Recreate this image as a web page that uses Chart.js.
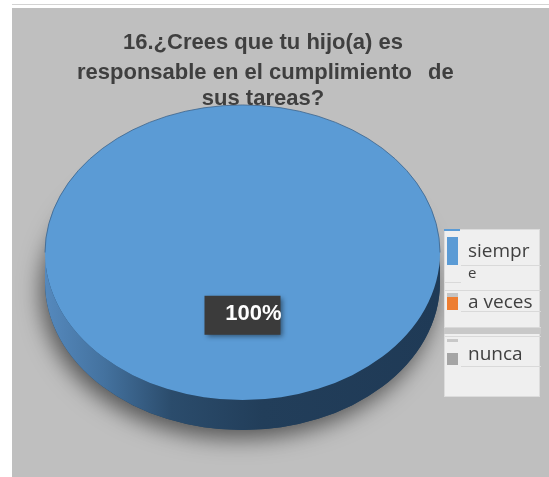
<!DOCTYPE html>
<html>
<head>
<meta charset="utf-8">
<script src="https://cdn.jsdelivr.net/npm/chart.js@4.4.1/dist/chart.umd.min.js"></script>
<style>
  html, body { margin:0; padding:0; background:#ffffff; }
  #wrap { position:relative; width:549px; height:477px; overflow:hidden; }
  #panel { position:absolute; left:12px; top:8px; right:0; bottom:0; background:#bfbfbf; }
  #topline { position:absolute; left:12px; top:4px; width:537px; height:1px; background:#d3d3d3; }
  canvas { position:absolute; left:0; top:0; }
  .t { position:absolute; font-family:"Liberation Sans", Arial, sans-serif; font-weight:bold; font-size:22px; line-height:22px; color:#3f3f3f; white-space:pre; }
  #legend { position:absolute; left:444px; top:229px; width:96px; height:168px; background:#efefef; border:1px solid #dcdcdc; box-sizing:border-box; }
  .lg { position:absolute; font-family:"Open Sans", "Noto Sans", sans-serif; font-size:19px; line-height:19px; color:#404040; white-space:pre; }
  .sw { position:absolute; width:11px; }
  .ln { position:absolute; height:1px; background:#d9d9d9; }
</style>
</head>
<body>
<div id="wrap">
  <div id="panel"></div>
  <div id="topline"></div>
  <canvas id="c" width="549" height="477"></canvas>
  <div id="titleBox"></div>
  <div id="legend"></div>
</div>
<script>
const titleLines = ["16.¿Crees que tu hijo(a) es", "responsable en el cumplimiento", "de", "sus tareas?"];
const categories = ["siempre", "a veces", "nunca"];
const legendText = ["siempr\ne", "a veces", "nunca"];
const values = [100, 0, 0];
const colors = ["#5b9bd5", "#ed7d31", "#a5a5a5"];

// Title (HTML text)
const tb = document.getElementById('titleBox');
function addT(txt, left, top, center) {
  const d = document.createElement('div');
  d.className = 't';
  d.textContent = txt;
  d.style.top = top + 'px';
  if (center) { d.style.left = (center - 300) + 'px'; d.style.width = '600px'; d.style.textAlign = 'center'; }
  else d.style.left = left + 'px';
  tb.appendChild(d);
}
addT(titleLines[0], 0, 31, 263);
addT(titleLines[1], 77, 61, null);
addT(titleLines[2], 428, 61, null);
addT(titleLines[3], 0, 87, 263);

// Legend (HTML text)
const lg = document.getElementById('legend');
function el(cls, css, txt) {
  const d = document.createElement('div');
  d.className = cls;
  Object.assign(d.style, css);
  if (txt !== undefined) d.textContent = txt;
  lg.appendChild(d);
  return d;
}
el('sw', {left:'-1px', top:'-1px', width:'16px', height:'2px', background:colors[0]});
el('sw', {left:'2px', top:'7px', height:'28px', background:colors[0]});
el('lg', {left:'23px', top:'11px'}, legendText[0].split('\n')[0]);
el('ln', {left:'16px', top:'35px', width:'80px'});
el('lg', {left:'23px', top:'35px', fontSize:'15px', lineHeight:'15px'}, legendText[0].split('\n')[1]);
el('ln', {left:'0px', top:'52px', width:'16px'});
el('ln', {left:'0px', top:'60px', width:'96px'});
el('sw', {left:'2px', top:'63px', height:'4px', background:'#c4c4c4'});
el('sw', {left:'2px', top:'67px', height:'13px', background:colors[1]});
el('lg', {left:'23px', top:'62px'}, legendText[1]);
el('ln', {left:'16px', top:'81px', width:'80px'});
el('ln', {left:'0px', top:'97px', width:'96px'});
el('sw', {left:'-1px', top:'98px', width:'97px', height:'6px', background:'#c8c8c8'});
el('ln', {left:'0px', top:'106px', width:'96px'});
el('sw', {left:'2px', top:'109px', height:'3px', background:'#c8c8c8'});
el('sw', {left:'2px', top:'123px', height:'12px', background:colors[2]});
el('lg', {left:'23px', top:'114px'}, legendText[2]);
el('ln', {left:'16px', top:'136px', width:'80px'});

const tilt = 0.747;
const depth = 30;

const pie3d = {
  id: 'pie3d',
  beforeDatasetsDraw(chart) {
    const ctx = chart.ctx;
    const arc = chart.getDatasetMeta(0).data[0];
    const x = arc.x, y = arc.y, r = arc.outerRadius, ry = r * tilt;
    ctx.save();
    ctx.save();
    ctx.shadowColor = 'rgba(0,0,0,0.55)';
    ctx.shadowBlur = 22;
    ctx.shadowOffsetX = -4;
    ctx.shadowOffsetY = 9;
    ctx.fillStyle = '#23405c';
    ctx.beginPath();
    ctx.ellipse(x, y + depth, r, ry, 0, 0, Math.PI * 2);
    ctx.fill();
    ctx.restore();
    const g = ctx.createLinearGradient(x - r, 0, x + r, 0);
    g.addColorStop(0, '#5589bd');
    g.addColorStop(0.15, '#44729f');
    g.addColorStop(0.32, '#2b4c6c');
    g.addColorStop(0.55, '#223e5a');
    g.addColorStop(1, '#1f3a56');
    ctx.fillStyle = g;
    ctx.beginPath();
    ctx.ellipse(x, y, r, ry, 0, 0, Math.PI, false);
    ctx.lineTo(x - r, y + depth);
    ctx.ellipse(x, y + depth, r, ry, 0, Math.PI, 0, true);
    ctx.closePath();
    ctx.fill();
    ctx.translate(x, y);
    ctx.scale(1, tilt);
    ctx.translate(-x, -y);
  },
  afterDatasetsDraw(chart) {
    const ctx = chart.ctx;
    const arc = chart.getDatasetMeta(0).data[0];
    ctx.restore();
    ctx.save();
    ctx.strokeStyle = 'rgba(60,100,140,0.8)';
    ctx.lineWidth = 1;
    ctx.beginPath();
    ctx.ellipse(arc.x, arc.y, arc.outerRadius, arc.outerRadius * tilt, 0, Math.PI, 0, false);
    ctx.stroke();
    ctx.restore();
  },
  afterDraw(chart) {
    const ctx = chart.ctx;
    const meta = chart.getDatasetMeta(0);
    const total = values.reduce((a, b) => a + b, 0);
    meta.data.forEach((arc, i) => {
      if (!values[i]) return;
      const p = arc.tooltipPosition();
      const cx = p.x, cy = arc.y + (p.y - arc.y) * tilt - 11;
      const txt = Math.round(values[i] / total * 100) + '%';
      const bw = 76, bh = 39;
      ctx.save();
      ctx.shadowColor = 'rgba(0,0,0,0.45)';
      ctx.shadowBlur = 5;
      ctx.shadowOffsetX = 2;
      ctx.shadowOffsetY = 2;
      ctx.fillStyle = '#3b3b3b';
      ctx.fillRect(cx - bw / 2, cy - bh / 2, bw, bh);
      ctx.restore();
      ctx.save();
      ctx.fillStyle = '#ffffff';
      ctx.font = 'bold 22px "Liberation Sans", Arial, sans-serif';
      ctx.textAlign = 'right';
      ctx.textBaseline = 'middle';
      ctx.fillText(txt, cx + bw / 2 + 1, cy - 1);
      ctx.restore();
    });
  }
};

new Chart(document.getElementById('c'), {
  type: 'pie',
  data: {
    labels: categories,
    datasets: [{
      data: values,
      backgroundColor: colors,
      borderWidth: 0
    }]
  },
  options: {
    responsive: false,
    animation: false,
    layout: { padding: { left: 45, top: 55, right: 109, bottom: 27 } },
    plugins: {
      legend: { display: false },
      tooltip: { enabled: false },
      title: { display: false }
    }
  },
  plugins: [pie3d]
});
</script>
</body>
</html>
